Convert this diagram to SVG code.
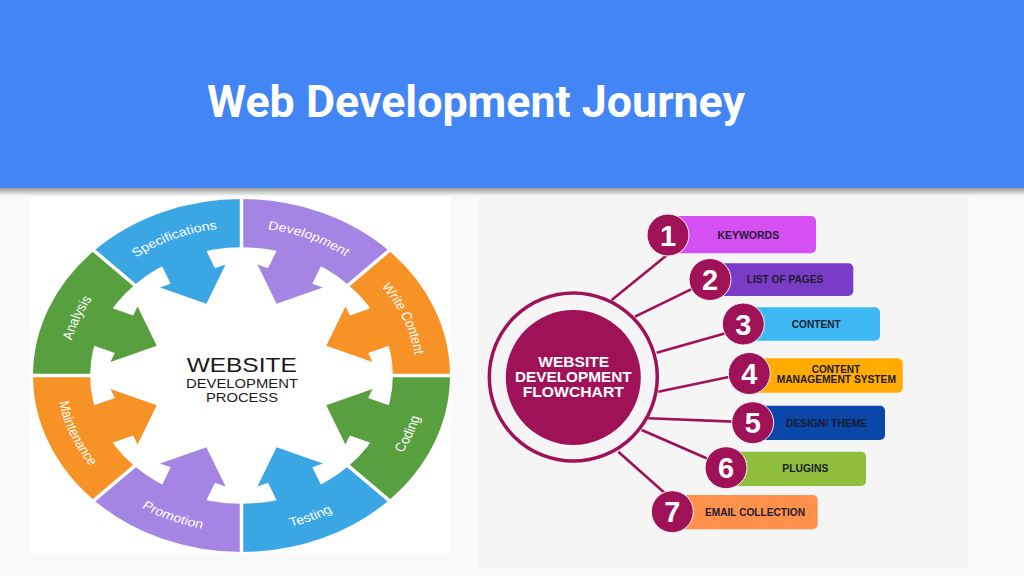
<svg xmlns="http://www.w3.org/2000/svg" width="1024" height="576" viewBox="0 0 1024 576">
  <defs>
    <linearGradient id="hdrShadow" x1="0" y1="0" x2="0" y2="1">
      <stop offset="0" stop-color="#000" stop-opacity="0.38"/>
      <stop offset="1" stop-color="#000" stop-opacity="0"/>
    </linearGradient>
    <polygon id="arrow" points="75,-11.5 61,-11.5 61,-17 44,0 61,17 61,11.5 75,11.5"/>
    <path id="tp-analysis" d="M -83.8 0 A 83.8 83.8 0 0 1 -59.26 -59.26"/>
    <path id="tp-spec" d="M -59.26 -59.26 A 83.8 83.8 0 0 1 0 -83.8"/>
    <path id="tp-dev" d="M 0 -83.8 A 83.8 83.8 0 0 1 59.26 -59.26"/>
    <path id="tp-write" d="M 59.26 -59.26 A 83.8 83.8 0 0 1 83.8 0"/>
    <path id="tp-coding" d="M 62.79 62.79 A 88.8 88.8 0 0 0 88.8 0"/>
    <path id="tp-testing" d="M 0 88.8 A 88.8 88.8 0 0 0 62.79 62.79"/>
    <path id="tp-promo" d="M -62.79 62.79 A 88.8 88.8 0 0 0 0 88.8"/>
    <path id="tp-maint" d="M -88.8 0 A 88.8 88.8 0 0 0 -62.79 62.79"/>
  </defs>
  <style>
    .blue{fill:#3AA6E4}
    .purple{fill:#A485E3}
    .orange{fill:#F79226}
    .green{fill:#589F3F}
    .seglbl{font-family:"Liberation Sans",Arial,sans-serif;font-size:6.9px;fill:#ffffff;text-anchor:middle}
    .ctr{font-family:"Liberation Sans",Arial,sans-serif;fill:#1a1a1a;text-anchor:middle}
    .divider{stroke:#ffffff;stroke-width:3.5;fill:none}
    .mag{fill:#A01257}
    .conn{stroke:#A01257;stroke-width:2.6;fill:none}
    .num{font-family:"Liberation Sans",Arial,sans-serif;font-weight:bold;font-size:29px;fill:#ffffff;text-anchor:middle}
    .lbl{font-family:"Liberation Sans",Arial,sans-serif;font-weight:bold;font-size:10.5px;fill:#1c1a2e;text-anchor:middle}
    .fc{font-family:"Liberation Sans",Arial,sans-serif;font-weight:bold;font-size:15px;fill:#ffffff;text-anchor:middle}
  </style>

  <!-- slide background -->
  <rect x="0" y="0" width="1024" height="576" fill="#f9f9f9"/>
  <rect x="0" y="188" width="1024" height="8" fill="url(#hdrShadow)"/>
  <rect x="0" y="0" width="1024" height="188" fill="#4285F4"/>
  <text x="207" y="117" font-family="Roboto,'Liberation Sans',sans-serif" font-weight="bold" font-size="45" fill="#ffffff" textLength="538" lengthAdjust="spacingAndGlyphs">Web Development Journey</text>

  <!-- LEFT: circular process -->
  <rect x="30" y="197" width="421" height="356" fill="#ffffff"/>
  <g id="wheel" transform="translate(241.5,375.5) scale(2.085,1.765)">
    <g id="seg-development">
      <path class="purple" d="M 0 -100 A 100 100 0 0 1 70.71 -70.71 L 51.34 -51.34 A 72.6 72.6 0 0 0 0 -72.6 Z"/>
      <use href="#arrow" class="purple" transform="rotate(292.5)"/>
      <text class="seglbl"><textPath href="#tp-dev" startOffset="50%">Development</textPath></text>
    </g>
    <g id="seg-write-content">
      <path class="orange" d="M 70.71 -70.71 A 100 100 0 0 1 100 0 L 72.6 0 A 72.6 72.6 0 0 0 51.34 -51.34 Z"/>
      <use href="#arrow" class="orange" transform="rotate(337.5)"/>
      <text class="seglbl"><textPath href="#tp-write" startOffset="50%">Write Content</textPath></text>
    </g>
    <g id="seg-coding">
      <path class="green" d="M 100 0 A 100 100 0 0 1 70.71 70.71 L 51.34 51.34 A 72.6 72.6 0 0 0 72.6 0 Z"/>
      <use href="#arrow" class="green" transform="rotate(22.5)"/>
      <text class="seglbl"><textPath href="#tp-coding" startOffset="50%">Coding</textPath></text>
    </g>
    <g id="seg-testing">
      <path class="blue" d="M 70.71 70.71 A 100 100 0 0 1 0 100 L 0 72.6 A 72.6 72.6 0 0 0 51.34 51.34 Z"/>
      <use href="#arrow" class="blue" transform="rotate(67.5)"/>
      <text class="seglbl"><textPath href="#tp-testing" startOffset="50%">Testing</textPath></text>
    </g>
    <g id="seg-promotion">
      <path class="purple" d="M 0 100 A 100 100 0 0 1 -70.71 70.71 L -51.34 51.34 A 72.6 72.6 0 0 0 0 72.6 Z"/>
      <use href="#arrow" class="purple" transform="rotate(112.5)"/>
      <text class="seglbl"><textPath href="#tp-promo" startOffset="50%">Promotion</textPath></text>
    </g>
    <g id="seg-maintenance">
      <path class="orange" d="M -70.71 70.71 A 100 100 0 0 1 -100 0 L -72.6 0 A 72.6 72.6 0 0 0 -51.34 51.34 Z"/>
      <use href="#arrow" class="orange" transform="rotate(157.5)"/>
      <text class="seglbl"><textPath href="#tp-maint" startOffset="50%">Maintenance</textPath></text>
    </g>
    <g id="seg-analysis">
      <path class="green" d="M -100 0 A 100 100 0 0 1 -70.71 -70.71 L -51.34 -51.34 A 72.6 72.6 0 0 0 -72.6 0 Z"/>
      <use href="#arrow" class="green" transform="rotate(202.5)"/>
      <text class="seglbl"><textPath href="#tp-analysis" startOffset="50%">Analysis</textPath></text>
    </g>
    <g id="seg-specifications">
      <path class="blue" d="M -70.71 -70.71 A 100 100 0 0 1 0 -100 L 0 -72.6 A 72.6 72.6 0 0 0 -51.34 -51.34 Z"/>
      <use href="#arrow" class="blue" transform="rotate(247.5)"/>
      <text class="seglbl"><textPath href="#tp-spec" startOffset="50%">Specifications</textPath></text>
    </g>
    <g id="dividers" class="divider">
      <line x1="70" y1="0" x2="102" y2="0" vector-effect="non-scaling-stroke"/>
      <line x1="49.5" y1="49.5" x2="72.2" y2="72.2" vector-effect="non-scaling-stroke"/>
      <line x1="0" y1="70" x2="0" y2="102" vector-effect="non-scaling-stroke"/>
      <line x1="-49.5" y1="49.5" x2="-72.2" y2="72.2" vector-effect="non-scaling-stroke"/>
      <line x1="-70" y1="0" x2="-102" y2="0" vector-effect="non-scaling-stroke"/>
      <line x1="-49.5" y1="-49.5" x2="-72.2" y2="-72.2" vector-effect="non-scaling-stroke"/>
      <line x1="0" y1="-70" x2="0" y2="-102" vector-effect="non-scaling-stroke"/>
      <line x1="49.5" y1="-49.5" x2="72.2" y2="-72.2" vector-effect="non-scaling-stroke"/>
    </g>
  </g>
  <g id="wheel-center">
    <text class="ctr" x="241.7" y="371.7" font-size="21" textLength="110" lengthAdjust="spacingAndGlyphs">WEBSITE</text>
    <text class="ctr" x="242" y="388.3" font-size="13" textLength="112" lengthAdjust="spacingAndGlyphs">DEVELOPMENT</text>
    <text class="ctr" x="242" y="402.3" font-size="13" textLength="72" lengthAdjust="spacingAndGlyphs">PROCESS</text>
  </g>

  <!-- RIGHT: flowchart -->
  <rect x="478" y="197" width="491" height="371" fill="#f5f5f5"/>
  <g id="connectors">
    <line class="conn" x1="611.7" y1="300" x2="668.9" y2="253.5"/>
    <line class="conn" x1="635" y1="316.7" x2="698.7" y2="285.7"/>
    <line class="conn" x1="656.7" y1="352.7" x2="730.8" y2="331.7"/>
    <line class="conn" x1="658.3" y1="391.7" x2="735.9" y2="375.5"/>
    <line class="conn" x1="648.3" y1="418.3" x2="739.3" y2="421.9"/>
    <line class="conn" x1="641.7" y1="430" x2="712.2" y2="460.7"/>
    <line class="conn" x1="618.3" y1="451.7" x2="669.5" y2="497.3"/>
  </g>
  <g id="flow-center">
    <circle cx="573.3" cy="377" r="84" fill="none" stroke="#A01257" stroke-width="3.5"/>
    <circle class="mag" cx="573.3" cy="377.5" r="67.5"/>
    <text class="fc" x="573.7" y="366.7" textLength="70.7" lengthAdjust="spacingAndGlyphs">WEBSITE</text>
    <text class="fc" x="573.3" y="381.9" textLength="116.7" lengthAdjust="spacingAndGlyphs">DEVELOPMENT</text>
    <text class="fc" x="573.3" y="397.3" textLength="101.3" lengthAdjust="spacingAndGlyphs">FLOWCHART</text>
  </g>
  <g id="item-1">
    <rect x="668" y="216" width="148" height="37.3" rx="5" fill="#D54FF3"/>
    <circle class="mag" cx="668" cy="235" r="21" stroke="#f5f5f5" stroke-width="1"/>
    <text class="num" x="668" y="245.5">1</text>
    <text class="lbl" x="748.3" y="238.8" textLength="61.7" lengthAdjust="spacingAndGlyphs">KEYWORDS</text>
  </g>
  <g id="item-2">
    <rect x="710" y="263.3" width="143.3" height="32.7" rx="5" fill="#7A3CC6"/>
    <circle class="mag" cx="710" cy="279.5" r="21" stroke="#f5f5f5" stroke-width="1"/>
    <text class="num" x="710" y="290">2</text>
    <text class="lbl" x="785" y="282.8" textLength="76.6" lengthAdjust="spacingAndGlyphs">LIST OF PAGES</text>
  </g>
  <g id="item-3">
    <rect x="743.3" y="307.3" width="136.7" height="33.4" rx="5" fill="#3DB8F2"/>
    <circle class="mag" cx="743.3" cy="324" r="21" stroke="#f5f5f5" stroke-width="1"/>
    <text class="num" x="743.3" y="334.5">3</text>
    <text class="lbl" x="816.2" y="327.8" textLength="49" lengthAdjust="spacingAndGlyphs">CONTENT</text>
  </g>
  <g id="item-4">
    <rect x="749.3" y="358.3" width="153.4" height="34.4" rx="5" fill="#FFAB00"/>
    <circle class="mag" cx="749.3" cy="373.5" r="21" stroke="#f5f5f5" stroke-width="1"/>
    <text class="num" x="749.3" y="384">4</text>
    <text class="lbl" x="836" y="373" textLength="48.3" lengthAdjust="spacingAndGlyphs">CONTENT</text>
    <text class="lbl" x="836.3" y="383.2" textLength="119.3" lengthAdjust="spacingAndGlyphs">MANAGEMENT SYSTEM</text>
  </g>
  <g id="item-5">
    <rect x="752.7" y="405.7" width="132.3" height="34.3" rx="5" fill="#0A47A8"/>
    <circle class="mag" cx="752.7" cy="422.7" r="21" stroke="#f5f5f5" stroke-width="1"/>
    <text class="num" x="752.7" y="433.2">5</text>
    <text class="lbl" x="826.7" y="426.5" textLength="81.3" lengthAdjust="spacingAndGlyphs">DESIGN/ THEME</text>
  </g>
  <g id="item-6">
    <rect x="726" y="451.7" width="140" height="34.3" rx="5" fill="#8FBE3C"/>
    <circle class="mag" cx="726" cy="467.7" r="21" stroke="#f5f5f5" stroke-width="1"/>
    <text class="num" x="726" y="478.2">6</text>
    <text class="lbl" x="805.3" y="471.5" textLength="46" lengthAdjust="spacingAndGlyphs">PLUGINS</text>
  </g>
  <g id="item-7">
    <rect x="672.3" y="495" width="145.4" height="34.3" rx="5" fill="#FF914D"/>
    <circle class="mag" cx="672.3" cy="511.7" r="21" stroke="#f5f5f5" stroke-width="1"/>
    <text class="num" x="672.3" y="522.2">7</text>
    <text class="lbl" x="755" y="515.5" textLength="100" lengthAdjust="spacingAndGlyphs">EMAIL COLLECTION</text>
  </g>
</svg>
